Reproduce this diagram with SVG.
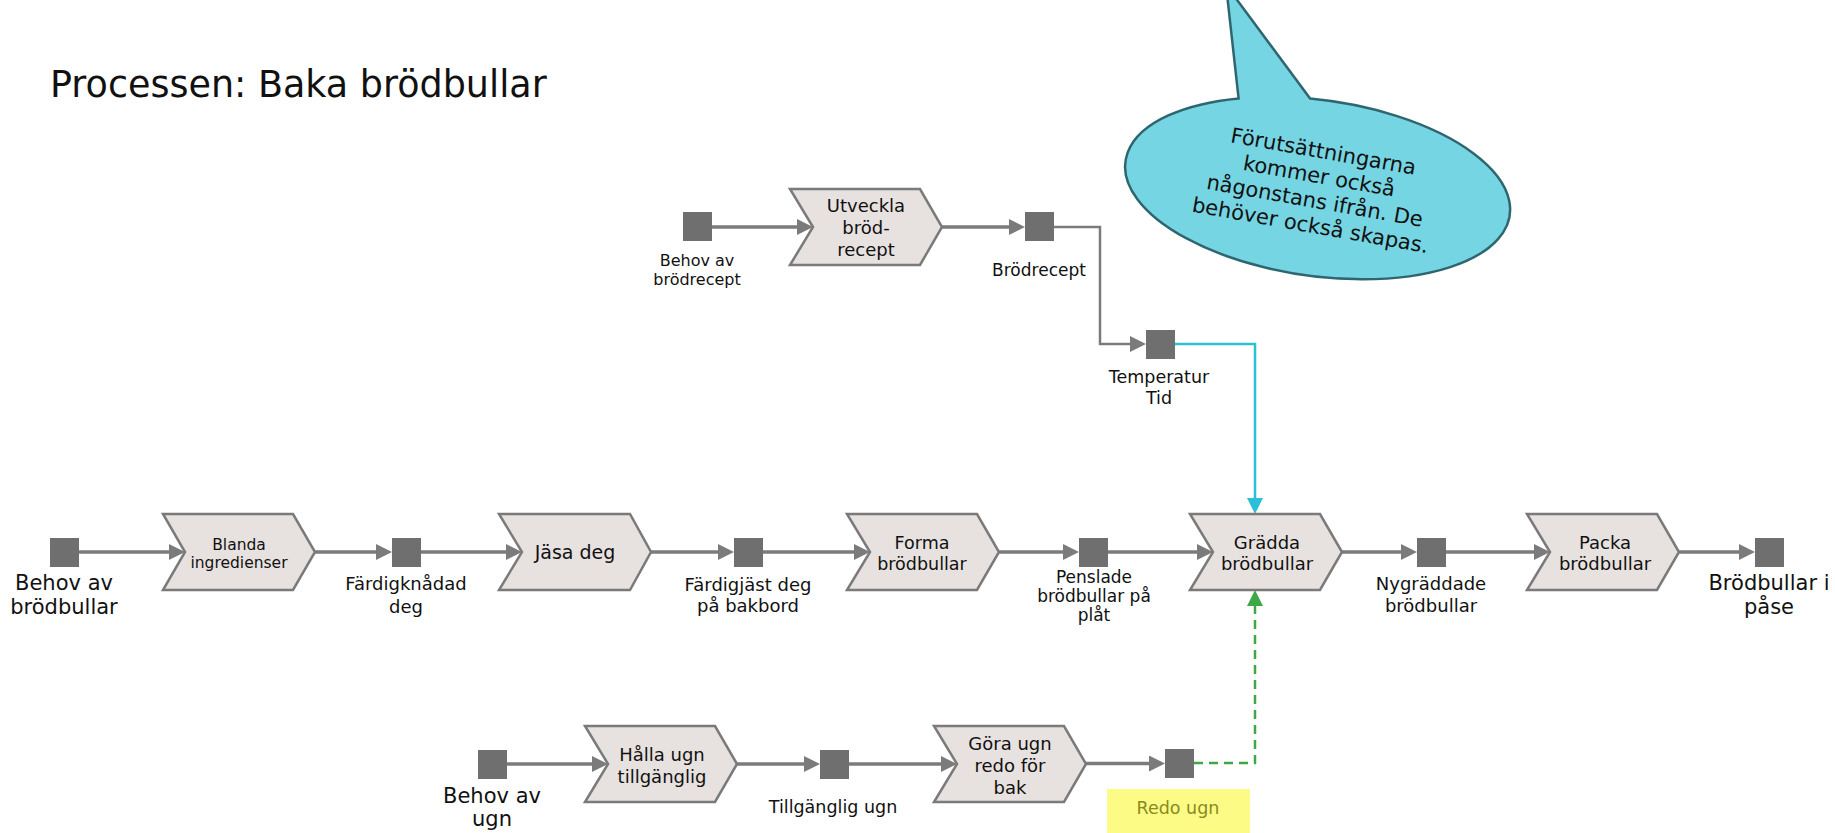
<svg xmlns="http://www.w3.org/2000/svg" width="1835" height="833" viewBox="0 0 1835 833">
<style>
text{font-family:"DejaVu Sans","Liberation Sans",sans-serif;fill:#111;text-anchor:middle}
.chev{fill:#e7e2df;stroke:#7a7a7a;stroke-width:2.5;stroke-linejoin:miter}
.sq{fill:#6f6f6f}
.flow{fill:none;stroke:#7b7b7b;stroke-width:3.5}
.cyan{fill:none;stroke:#2bbfd8;stroke-width:2.5}
.green{fill:none;stroke:#3fa846;stroke-width:2.5;stroke-dasharray:9 6}
.t18{font-size:18px}
</style>
<defs>
<marker id="ag" markerUnits="userSpaceOnUse" markerWidth="18" markerHeight="18" refX="12" refY="8" orient="auto"><path d="M0,0 L16,8 L0,16 Z" fill="#7b7b7b"/></marker>
<marker id="ac" markerUnits="userSpaceOnUse" markerWidth="18" markerHeight="18" refX="12" refY="8" orient="auto"><path d="M0,0 L16,8 L0,16 Z" fill="#2bbfd8"/></marker>
<marker id="agr" markerUnits="userSpaceOnUse" markerWidth="18" markerHeight="18" refX="12" refY="8" orient="auto"><path d="M0,0 L16,8 L0,16 Z" fill="#3fa846"/></marker>
</defs>

<text id="title" x="50" y="97" style="font-size:36.5px;text-anchor:start">Processen: Baka brödbullar</text>

<g id="callout">
<path d="M1310.1,98.6 A194,88 8 1 1 1238.6,98.4 L1226,-15 Z" fill="#75d5e3" stroke="#2e6670" stroke-width="2.5"/>
<g transform="translate(1317,188) rotate(10)" style="font-size:21px">
<text x="0" y="-30">Förutsättningarna</text>
<text x="0" y="-5">kommer också</text>
<text x="0" y="20">någonstans ifrån. De</text>
<text x="0" y="45">behöver också skapas.</text>
</g>
</g>

<g id="connectors">
<path class="flow" d="M712,227 L809,227" marker-end="url(#ag)"/>
<path class="flow" d="M942,227 L1021,227" marker-end="url(#ag)"/>
<path class="flow" style="stroke-width:2.5" d="M1054,227 H1100 V344 H1142" marker-end="url(#ag)"/>
<path class="cyan" d="M1175,344 H1255 V510" marker-end="url(#ac)"/>
<path class="flow" d="M79,552 L181,552" marker-end="url(#ag)"/>
<path class="flow" d="M315,552 L388,552" marker-end="url(#ag)"/>
<path class="flow" d="M421,552 L518,552" marker-end="url(#ag)"/>
<path class="flow" d="M651,552 L730,552" marker-end="url(#ag)"/>
<path class="flow" d="M763,552 L866,552" marker-end="url(#ag)"/>
<path class="flow" d="M999,552 L1075,552" marker-end="url(#ag)"/>
<path class="flow" d="M1108,552 L1209,552" marker-end="url(#ag)"/>
<path class="flow" d="M1342,552 L1413,552" marker-end="url(#ag)"/>
<path class="flow" d="M1446,552 L1546,552" marker-end="url(#ag)"/>
<path class="flow" d="M1679,552 L1751,552" marker-end="url(#ag)"/>
<path class="flow" d="M507,764 L604,764" marker-end="url(#ag)"/>
<path class="flow" d="M737,764 L816,764" marker-end="url(#ag)"/>
<path class="flow" d="M849,764 L953,764" marker-end="url(#ag)"/>
<path class="flow" d="M1086,763.5 L1161,763.5" marker-end="url(#ag)"/>
<path class="green" d="M1194,763 H1255 V594" marker-end="url(#agr)"/>
</g>

<g id="behov-brodrecept">
<rect class="sq" x="683" y="212" width="29" height="29"/>
<text x="697" y="266" style="font-size:16px">Behov av</text>
<text x="697" y="285" style="font-size:16px">brödrecept</text>
</g>
<g id="utveckla">
<polygon class="chev" points="790,189 920,189 942,227 920,265 790,265 813,227"/>
<text class="t18" x="866" y="212">Utveckla</text>
<text class="t18" x="866" y="234">bröd-</text>
<text class="t18" x="866" y="256">recept</text>
</g>
<g id="brodrecept">
<rect class="sq" x="1025" y="212" width="29" height="29"/>
<text x="1039" y="276" style="font-size:17px">Brödrecept</text>
</g>
<g id="temperatur">
<rect class="sq" x="1146" y="330" width="29" height="29"/>
<text x="1159" y="383" style="font-size:17.5px">Temperatur</text>
<text x="1159" y="404" style="font-size:17.5px">Tid</text>
</g>

<g id="behov-brodbullar">
<rect class="sq" x="50" y="538" width="29" height="29"/>
<text x="64" y="590" style="font-size:21px">Behov av</text>
<text x="64" y="614" style="font-size:21px">brödbullar</text>
</g>
<g id="blanda">
<polygon class="chev" points="163,514 293,514 315,552 293,590 163,590 185,552"/>
<text x="239" y="550" style="font-size:15.5px">Blanda</text>
<text x="239" y="568" style="font-size:15.5px">ingredienser</text>
</g>
<g id="fardigknadad">
<rect class="sq" x="392" y="538" width="29" height="29"/>
<text class="t18" x="406" y="590">Färdigknådad</text>
<text class="t18" x="406" y="613">deg</text>
</g>
<g id="jasa">
<polygon class="chev" points="499,514 630,514 651,552 630,590 499,590 522,552"/>
<text x="575" y="559" style="font-size:19px">Jäsa deg</text>
</g>
<g id="fardigjast">
<rect class="sq" x="734" y="538" width="29" height="29"/>
<text class="t18" x="748" y="591">Färdigjäst deg</text>
<text class="t18" x="748" y="612">på bakbord</text>
</g>
<g id="forma">
<polygon class="chev" points="847,514 977,514 999,552 977,590 847,590 870,552"/>
<text x="922" y="549" style="font-size:17.5px">Forma</text>
<text x="922" y="570" style="font-size:17.5px">brödbullar</text>
</g>
<g id="penslade">
<rect class="sq" x="1079" y="538" width="29" height="29"/>
<text x="1094" y="583" style="font-size:17px">Penslade</text>
<text x="1094" y="602" style="font-size:17px">brödbullar på</text>
<text x="1094" y="621" style="font-size:17px">plåt</text>
</g>
<g id="gradda">
<polygon class="chev" points="1190,514 1320,514 1342,552 1320,590 1190,590 1213,552"/>
<text class="t18" x="1267" y="549">Grädda</text>
<text class="t18" x="1267" y="570">brödbullar</text>
</g>
<g id="nygraddade">
<rect class="sq" x="1417" y="538" width="29" height="29"/>
<text class="t18" x="1431" y="590">Nygräddade</text>
<text class="t18" x="1431" y="612">brödbullar</text>
</g>
<g id="packa">
<polygon class="chev" points="1527,514 1657,514 1679,552 1657,590 1527,590 1550,552"/>
<text class="t18" x="1605" y="549">Packa</text>
<text class="t18" x="1605" y="570">brödbullar</text>
</g>
<g id="brodbullar-pase">
<rect class="sq" x="1755" y="538" width="29" height="29"/>
<text x="1769" y="590" style="font-size:21px">Brödbullar i</text>
<text x="1769" y="614" style="font-size:21px">påse</text>
</g>

<g id="behov-ugn">
<rect class="sq" x="478" y="750" width="29" height="29"/>
<text x="492" y="803" style="font-size:21px">Behov av</text>
<text x="492" y="826" style="font-size:21px">ugn</text>
</g>
<g id="halla">
<polygon class="chev" points="585,726 715,726 737,764 715,802 585,802 608,764"/>
<text class="t18" x="662" y="761">Hålla ugn</text>
<text class="t18" x="662" y="783">tillgänglig</text>
</g>
<g id="tillganglig">
<rect class="sq" x="820" y="750" width="29" height="29"/>
<text x="833" y="813" style="font-size:17.5px">Tillgänglig ugn</text>
</g>
<g id="gora">
<polygon class="chev" points="934,726 1064,726 1086,764 1064,802 934,802 957,764"/>
<text class="t18" x="1010" y="750">Göra ugn</text>
<text class="t18" x="1010" y="772">redo för</text>
<text class="t18" x="1010" y="794">bak</text>
</g>
<g id="redo-ugn">
<rect class="sq" x="1165" y="749" width="29" height="29"/>
<rect x="1107" y="789" width="143" height="44" fill="#fbfb85"/>
<text x="1178" y="814" style="font-size:17.5px;fill:#8a8a1e">Redo ugn</text>
</g>
</svg>
